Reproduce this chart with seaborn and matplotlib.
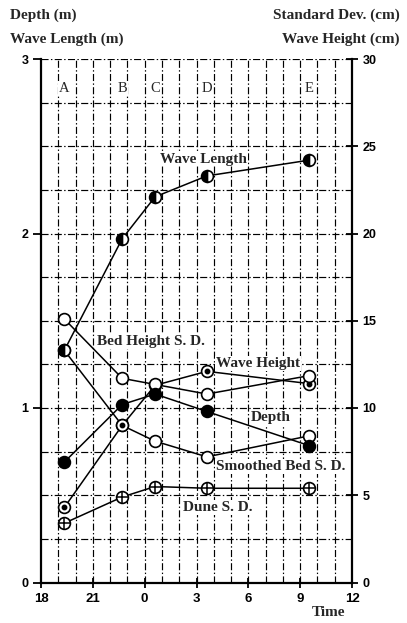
import matplotlib
matplotlib.use("Agg")
import matplotlib.pyplot as plt
import seaborn as sns
import pandas as pd

# Survey runs (hours after 0:00 of day 1; 24+ means the following morning)
run_labels = ["A", "B", "C", "D", "E"]
time_h = [19.35, 22.7, 24.6, 27.6, 33.5]

# Left axis quantities (m)
depth_m = [0.69, 1.02, 1.08, 0.98, 0.785]
wave_length_m = [1.33, 1.97, 2.21, 2.33, 2.42]

# Right axis quantities (cm)
bed_height_sd_cm = [15.1, 11.7, 11.35, 10.8, 11.85]
wave_height_cm = [4.3, 9.0, 11.3, 12.1, 11.4]
smoothed_bed_sd_cm = [13.3, 9.0, 8.1, 7.2, 8.4]
dune_sd_cm = [3.4, 4.9, 5.5, 5.4, 5.4]

x_ticks = [18, 21, 24, 27, 30, 33, 36]
x_tick_labels = ["18", "21", "0", "3", "6", "9", "12"]
left_ticks = [0, 1, 2, 3]
right_ticks = [0, 5, 10, 15, 20, 25, 30]

sns.set_style("white")
serif = ["Liberation Serif", "DejaVu Serif"]
tick_font = ["Liberation Sans Narrow", "Liberation Sans", "DejaVu Sans"]
plt.rcParams["font.family"] = serif

fig = plt.figure(figsize=(4.07, 6.23), dpi=100)
ax = fig.add_axes([41 / 407, 40.5 / 623, 311 / 407, 523.5 / 623])
ax2 = ax.twinx()
# metre series sit above the centimetre series
ax.set_zorder(ax2.get_zorder() + 1)
ax.patch.set_visible(False)
ax2.patch.set_visible(False)

ax.set_xlim(18, 36)
ax.set_ylim(0, 3)
ax2.set_ylim(0, 30)

# dash-dot grid, one line per hour and per 2.5 cm (0.25 m)
grid_kw = dict(color="black", lw=0.85, dashes=(6, 2, 1.2, 2), zorder=0)
for h in range(19, 36):
    ax2.axvline(h, **grid_kw)
for k in range(1, 13):
    ax2.axhline(k * 2.5, **grid_kw)

line_kw = dict(color="black", lw=1.1, markersize=8.5, markeredgecolor="black",
               markeredgewidth=1.2, legend=False)

# Right axis series
df_r = pd.DataFrame({"t": time_h, "bed": bed_height_sd_cm, "wh": wave_height_cm,
                     "smooth": smoothed_bed_sd_cm, "dune": dune_sd_cm})
sns.lineplot(data=df_r, x="t", y="smooth", ax=ax2, marker="o",
             markerfacecolor="white", zorder=3, **line_kw)
sns.lineplot(data=df_r, x="t", y="dune", ax=ax2, marker="o",
             markerfacecolor="white", zorder=3, **line_kw)
ax2.plot(time_h, dune_sd_cm, ls="none", marker="+", ms=8.5, mew=1.1,
         color="black", zorder=4)
sns.lineplot(data=df_r, x="t", y="wh", ax=ax2, marker="o",
             markerfacecolor="white", zorder=4, **line_kw)
ax2.plot(time_h, wave_height_cm, ls="none", marker="o", ms=3.2,
         color="black", zorder=5)
sns.lineplot(data=df_r, x="t", y="bed", ax=ax2, marker="o",
             markerfacecolor="white", zorder=5, **line_kw)

# Left axis series
df_l = pd.DataFrame({"t": time_h, "depth": depth_m, "wl": wave_length_m})
sns.lineplot(data=df_l, x="t", y="depth", ax=ax, marker="o",
             markerfacecolor="black", zorder=3, **line_kw)
sns.lineplot(data=df_l, x="t", y="wl", ax=ax, marker="o", fillstyle="left",
             markerfacecolor="black", markerfacecoloralt="white", zorder=3,
             **line_kw)

for a in (ax, ax2):
    a.set_xlabel("")
    a.set_ylabel("")

# spines and ticks
for a in (ax, ax2):
    a.spines["top"].set_visible(False)
ax.spines["right"].set_visible(False)
ax2.spines["left"].set_visible(False)
ax2.spines["bottom"].set_visible(False)
for s in ("left", "bottom"):
    ax.spines[s].set_linewidth(1.6)
    ax.spines[s].set_color("black")
ax2.spines["right"].set_linewidth(1.6)
ax2.spines["right"].set_color("black")

ax.set_xticks(x_ticks)
ax.set_xticklabels(x_tick_labels)
ax.set_yticks(left_ticks)
ax.set_yticklabels([str(v) for v in left_ticks])
ax2.set_yticks(right_ticks)
ax2.set_yticklabels([str(v) for v in right_ticks])
ax.tick_params(axis="x", direction="inout", length=7, width=1.3, pad=4,
               bottom=True, labelsize=9.5, colors="black")
ax.tick_params(axis="y", direction="out", length=6, width=1.3, pad=3,
               left=True, labelsize=9, colors="black")
ax2.tick_params(axis="y", direction="inout", length=9, width=1.3, pad=3,
                right=True, labelsize=9, colors="black")
for lab in ax.get_xticklabels() + ax.get_yticklabels() + ax2.get_yticklabels():
    lab.set_family(tick_font)
    lab.set_fontweight("bold")

# run letters along the top
for lab, t in zip(run_labels, time_h):
    ax.text(t, 2.83, lab, ha="center", va="center", fontsize=10.5,
            family=serif, zorder=6,
            bbox=dict(facecolor="white", edgecolor="none", pad=0.5))

# series names
series_names = ["Wave Length", "Bed Height S. D.", "Wave Height", "Depth",
                "Smoothed Bed S. D.", "Dune S. D."]
name_pos = [(24.89, 2.426), (21.24, 1.38), (28.13, 1.254), (30.15, 0.946),
            (28.13, 0.666), (26.2, 0.431)]
for name, (tx, ty) in zip(series_names, name_pos):
    ax.text(tx, ty, name, ha="left", va="center", fontsize=11,
            fontweight="bold", family=serif, zorder=6,
            bbox=dict(facecolor="white", edgecolor="none", pad=0.6))

# axis titles
title_kw = dict(fontsize=11, fontweight="bold", family=serif, va="center")
fig.text(10 / 407, 1 - 15 / 623, "Depth (m)", ha="left", **title_kw)
fig.text(10 / 407, 1 - 39 / 623, "Wave Length (m)", ha="left", **title_kw)
fig.text(400 / 407, 1 - 15 / 623, "Standard Dev. (cm)", ha="right", **title_kw)
fig.text(400 / 407, 1 - 39 / 623, "Wave Height (cm)", ha="right", **title_kw)
fig.text(328 / 407, 1 - 612 / 623, "Time", ha="center", **title_kw)

fig.savefig("out.png", dpi=100)
